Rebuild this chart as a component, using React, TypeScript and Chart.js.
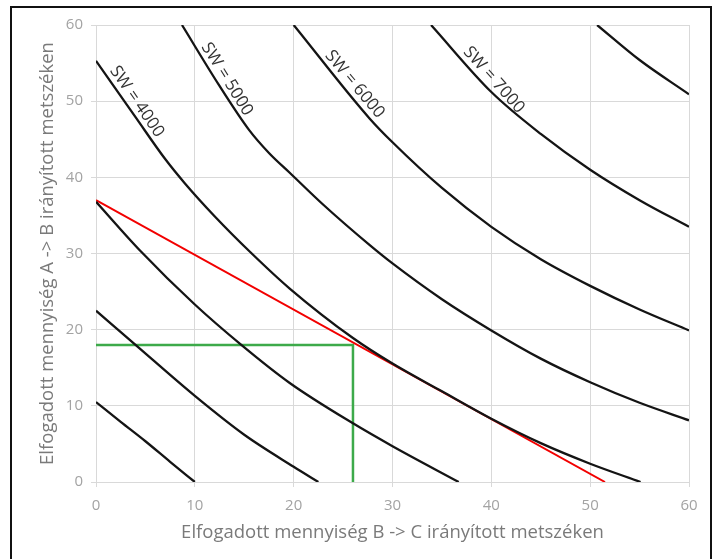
import React, { useEffect, useRef } from "react";
import { Chart, registerables } from "chart.js";

Chart.register(...registerables);

// Axis ranges / ticks
const axisMin = 0;
const axisMax = 60;
const tickStep = 10;

const xTitle = "Elfogadott mennyiség B -> C irányított metszéken";
const yTitle = "Elfogadott mennyiség A -> B irányított metszéken";

// Black SW curves (x values / y values)
const c1X = [0, 2.5, 5, 7.5, 10];
const c1Y = [10.5, 7.9, 5.35, 2.65, 0];

const c2X = [0, 4, 10, 15, 20, 22.5];
const c2Y = [22.5, 18, 11.3, 6.2, 2.0, 0];

const c3X = [0, 4.45, 10, 14.7, 19.6, 26, 30, 36.7];
const c3Y = [36.8, 30.4, 23.3, 18, 13, 7.7, 4.7, 0];

const c4X = [0, 4, 7, 9, 12, 15.6, 19.6, 26, 30, 35, 40, 45, 50, 55.1];
const c4Y = [55.3, 47.9, 42.4, 39.2, 34.9, 30.2, 25.4, 18.9, 15.55, 11.9, 8.3, 5.1, 2.4, 0];

const c5X = [8.7, 12.4, 15.5, 17.5, 19.6, 23, 27.7, 30, 35, 40, 45, 50, 55, 60];
const c5Y = [60, 52.2, 46.2, 43.2, 40.6, 36.4, 31.1, 28.7, 24.0, 19.9, 16.2, 13.1, 10.4, 8.1];

const c6X = [20, 27.7, 30, 35, 40, 45, 50, 55, 60];
const c6Y = [60, 47.7, 44.6, 38.6, 33.5, 29.25, 25.75, 22.65, 19.9];

const c7X = [33.9, 40, 45, 50, 55, 60];
const c7Y = [60, 51.2, 45.7, 41.0, 37.0, 33.5];

const c8X = [50.7, 55, 60];
const c8Y = [60, 55.4, 50.9];

// Red budget line
const redX = [0, 51.5];
const redY = [37, 0];

// Green guide lines
const greenX = [0, 26, 26];
const greenY = [18, 18, 0];

// Curve labels: text, curve index, x position along curve, rotation (deg)
const curveLabels = ["SW = 4000", "SW = 5000", "SW = 6000", "SW = 7000"];
const labelCurve = [3, 4, 5, 6];
const labelAtX = [3.3, 12.4, 25.4, 39.5];
const labelAngle = [55.5, 58, 50, 48.3];

const toPoints = (xs: number[], ys: number[]) => xs.map((x, i) => ({ x, y: ys[i] }));

const blackCurves = [
  [c1X, c1Y],
  [c2X, c2Y],
  [c3X, c3Y],
  [c4X, c4Y],
  [c5X, c5Y],
  [c6X, c6Y],
  [c7X, c7Y],
  [c8X, c8Y],
];

const yOnCurve = (xs: number[], ys: number[], x: number) => {
  for (let i = 0; i < xs.length - 1; i++) {
    if (x >= xs[i] && x <= xs[i + 1]) {
      const t = (x - xs[i]) / (xs[i + 1] - xs[i]);
      return ys[i] + t * (ys[i + 1] - ys[i]);
    }
  }
  return ys[ys.length - 1];
};

const labelPlugin = {
  id: "curveLabels",
  afterDatasetsDraw(chart: any) {
    const { ctx, scales } = chart;
    const xs = scales.x;
    const ys = scales.y;
    ctx.save();
    ctx.font = '17px "Open Sans"';
    ctx.fillStyle = "#333333";
    ctx.textAlign = "center";
    ctx.textBaseline = "middle";
    curveLabels.forEach((txt, i) => {
      const [cx, cy] = blackCurves[labelCurve[i]];
      const lx = labelAtX[i];
      const ly = yOnCurve(cx, cy, lx);
      const px = xs.getPixelForValue(lx);
      const py = ys.getPixelForValue(ly);
      ctx.save();
      ctx.translate(px, py);
      ctx.rotate((labelAngle[i] * Math.PI) / 180);
      ctx.fillText(txt, 0, -10);
      ctx.restore();
    });
    ctx.restore();
  },
};

export default function App() {
  const canvasRef = useRef<HTMLCanvasElement | null>(null);

  useEffect(() => {
    const canvas = canvasRef.current;
    if (!canvas) return;

    const datasets: any[] = blackCurves.map(([xs, ys]) => ({
      data: toPoints(xs, ys),
      showLine: true,
      borderColor: "#141414",
      borderWidth: 2.3,
      pointRadius: 0,
      cubicInterpolationMode: "monotone",
      fill: false,
    }));
    datasets.push({
      data: toPoints(redX, redY),
      showLine: true,
      borderColor: "#f20000",
      borderWidth: 2,
      pointRadius: 0,
      fill: false,
    });
    datasets.push({
      data: toPoints(greenX, greenY),
      showLine: true,
      borderColor: "#3daa4a",
      borderWidth: 2.5,
      pointRadius: 0,
      fill: false,
    });

    const tickFont = { family: '"Open Sans"', size: 15 };
    const titleFont = { family: '"Open Sans"', size: 18.5 };

    const chart = new Chart(canvas, {
      type: "scatter",
      data: { datasets },
      options: {
        responsive: false,
        maintainAspectRatio: false,
        animation: false,
        events: [],
        layout: { padding: { top: 25, right: 29, bottom: 0, left: 0 } },
        plugins: {
          legend: { display: false },
          tooltip: { enabled: false },
        },
        scales: {
          x: {
            type: "linear",
            min: axisMin,
            max: axisMax,
            ticks: { stepSize: tickStep, color: "#a3a3a3", font: tickFont, padding: 10 },
            grid: { color: "#d9d9d9", tickLength: 5, lineWidth: 1 },
            border: { color: "#d9d9d9" },
            title: {
              display: true,
              text: xTitle,
              color: "#7a7a7a",
              font: titleFont,
              padding: { top: 0, bottom: 15 },
            },
            afterFit(scale: any) {
              scale.height = 77;
            },
          },
          y: {
            type: "linear",
            min: axisMin,
            max: axisMax,
            ticks: { stepSize: tickStep, color: "#a3a3a3", font: tickFont, padding: 8 },
            grid: { color: "#d9d9d9", tickLength: 5, lineWidth: 1 },
            border: { color: "#d9d9d9" },
            title: {
              display: true,
              text: yTitle,
              color: "#7a7a7a",
              font: titleFont,
              padding: { top: 37, bottom: 0 },
            },
            afterFit(scale: any) {
              scale.width = 96;
            },
          },
        },
      },
      plugins: [labelPlugin],
    });

    return () => chart.destroy();
  }, []);

  return (
    <div
      style={{
        position: "fixed",
        left: 0,
        top: 0,
        width: 718,
        height: 559,
        background: "#ffffff",
        overflow: "hidden",
      }}
    >
      <canvas ref={canvasRef} width={718} height={559} style={{ display: "block" }} />
      <div
        style={{
          position: "absolute",
          left: 10,
          top: 6,
          width: 702,
          height: 600,
          border: "2px solid #111",
          boxSizing: "border-box",
          pointerEvents: "none",
        }}
      />
    </div>
  );
}
